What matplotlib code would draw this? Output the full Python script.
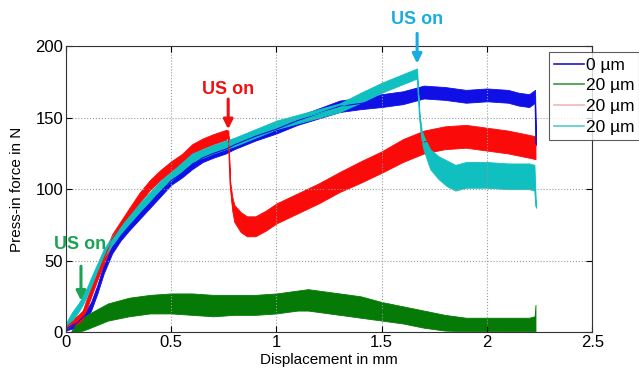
import numpy as np
import matplotlib
matplotlib.use("Agg")
import matplotlib.pyplot as plt
from matplotlib.lines import Line2D

plt.rcParams['font.family'] = ['Liberation Sans', 'DejaVu Sans']

# 0 um (blue)
blue_x = [0.0, 0.02, 0.05, 0.08, 0.1, 0.12, 0.15, 0.18, 0.22, 0.26, 0.3, 0.35, 0.4, 0.45, 0.5,
          0.55, 0.6, 0.65, 0.7, 0.76, 0.8, 0.9, 1.0, 1.1, 1.2, 1.3, 1.4, 1.5, 1.6, 1.7, 1.8,
          1.9, 2.0, 2.1, 2.15, 2.2, 2.228, 2.232]
blue_y = [2, 4, 6, 10, 13, 18, 30, 44, 58, 67, 74, 82, 90, 98, 106,
          111, 117, 122, 125, 128, 131, 137, 142, 148, 153, 158, 160, 162, 164, 168, 167,
          165, 166, 165, 163, 162, 165, 132]
blue_hw = [1, 2, 3, 3, 3, 3, 3, 3, 3, 3, 3, 3, 3, 3, 3,
           3, 3, 3, 3, 3, 3, 3, 3, 3, 3.5, 4, 4, 4.5, 4.5, 4.5, 4.5,
           4.5, 4.5, 4.5, 4.5, 4.5, 4.5, 1]

# 20 um, US on at start (green)
green_x = [0.03, 0.05, 0.08, 0.1, 0.15, 0.2, 0.3, 0.4, 0.5, 0.6, 0.7, 0.8, 0.9, 1.0, 1.1,
           1.15, 1.2, 1.3, 1.4, 1.5, 1.6, 1.7, 1.8, 1.9, 2.0, 2.1, 2.2, 2.226, 2.23]
green_lo = [0, 0, 1, 2, 5, 8, 11, 13, 13, 12, 11, 12, 12, 13, 15,
            15, 14, 12, 10, 8, 6, 3, 1, 0.5, 0.5, 0.5, 0.5, 0.5, 0.5]
green_hi = [1, 6, 10, 12, 16, 20, 24, 26, 27, 27, 26, 26, 26, 27, 29,
            30, 29, 27, 25, 21, 18, 15, 12, 10, 10, 10, 10, 11, 19]

# 20 um, US on at 0.77 mm (red)
red_x = [0.0, 0.03, 0.06, 0.08, 0.1, 0.12, 0.15, 0.18, 0.22, 0.26, 0.3, 0.35, 0.4, 0.45, 0.5,
         0.55, 0.6, 0.65, 0.7, 0.76, 0.772, 0.776, 0.78, 0.79, 0.8, 0.83, 0.86, 0.9, 0.95, 1.0,
         1.1, 1.2, 1.3, 1.4, 1.5, 1.6, 1.7, 1.8, 1.9, 2.0, 2.1, 2.2, 2.23]
red_y = [3, 7, 9, 12, 20, 28, 40, 51, 65, 74, 83, 94, 103, 110, 116,
         121, 128, 132, 135, 138, 139, 120, 104, 90, 83, 77, 74, 74, 78, 83,
         90, 97, 105, 112, 119, 127, 133, 136, 137, 135, 133, 130, 129]
red_hw = [1, 2, 3, 3, 3.5, 3.5, 3.5, 3.5, 3.5, 3.5, 3.5, 3.5, 3.5, 3.5, 3.5,
          3.5, 3.5, 3.5, 3.5, 3.5, 2, 1, 2, 5, 6, 7, 7, 7, 7, 7,
          7, 7, 7, 7.5, 7.5, 8, 8, 8, 8, 8, 8, 8, 8]

# 20 um, US on at 1.67 mm (cyan)
cyan_x = [0.0, 0.03, 0.06, 0.08, 0.1, 0.12, 0.15, 0.18, 0.22, 0.26, 0.3, 0.35, 0.4, 0.45, 0.5,
          0.6, 0.7, 0.8, 0.9, 1.0, 1.1, 1.2, 1.3, 1.4, 1.5, 1.6, 1.668, 1.672, 1.68, 1.69,
          1.7, 1.73, 1.77, 1.81, 1.85, 1.9, 2.0, 2.1, 2.2, 2.225, 2.232]
cyan_y = [4, 11, 17, 22, 28, 35, 45, 55, 64, 71, 78, 87, 95, 103, 109,
          122, 128, 133, 139, 145, 149, 153, 157, 164, 171, 177, 181, 170, 150, 137,
          132, 121, 115, 111, 108, 110, 110, 109, 109, 108, 88]
cyan_hw = [2, 3, 3, 3, 3, 3, 3, 3, 3, 3, 3, 3, 3, 3, 3,
           3, 3, 3, 3, 3, 3, 3, 3, 3.5, 3.5, 3.5, 3.5, 1, 2, 4,
           5, 7, 8, 9, 9, 9, 9, 9, 9, 9, 1]

labels = ['0 µm', '20 µm', '20 µm', '20 µm']
data_colors = ['#1010e6', '#067a06', '#fb0a0a', '#10c0c0']
legend_colors = ['#1a1acc', '#3a9a3a', '#f4b4b4', '#55cccc']

fig = plt.figure(figsize=(6.39, 3.72), dpi=100)
ax = fig.add_axes([0.103, 0.1075, 0.824, 0.768])


def band(x, lo, hi, color):
    ax.fill_between(x, lo, hi, color=color, lw=0.6, edgecolor=color)
    ax.plot(x, (np.asarray(lo) + np.asarray(hi)) / 2, color=color, lw=0.8)


bx, by, bh = np.array(blue_x), np.array(blue_y), np.array(blue_hw)
band(bx, by - bh, by + bh, data_colors[0])
band(green_x, green_lo, green_hi, data_colors[1])
rx, ry, rh = np.array(red_x), np.array(red_y), np.array(red_hw)
band(rx, ry - rh, ry + rh, data_colors[2])
cx, cy, ch = np.array(cyan_x), np.array(cyan_y), np.array(cyan_hw)
band(cx, cy - ch, cy + ch, data_colors[3])

ax.set_xlim(0, 2.5)
ax.set_ylim(0, 200)
ax.set_xticks([0, 0.5, 1, 1.5, 2, 2.5])
ax.set_xticklabels(['0', '0.5', '1', '1.5', '2', '2.5'])
ax.set_yticks([0, 50, 100, 150, 200])
ax.tick_params(direction='in', labelsize=12, length=4, top=True, right=True, pad=2)
ax.grid(True, linestyle=':', color='#999999', linewidth=0.8)
for s in ax.spines.values():
    s.set_color('#333333')
ax.set_xlabel('Displacement in mm', fontsize=11, labelpad=2)
ax.set_ylabel('Press-in force in N', fontsize=11, labelpad=8)

# "US on" annotations
notes = [(0.072, 20, 0.072, 48, 0.068, 61, '#1aa352'),
         (0.771, 140, 0.771, 165, 0.768, 170, '#ee1111'),
         (1.668, 186, 1.668, 211, 1.668, 219, '#19ace0')]
for x_tip, y_tip, x_tail, y_tail, x_txt, y_txt, col in notes:
    ax.annotate('', xy=(x_tip, y_tip), xytext=(x_tail, y_tail), annotation_clip=False,
                arrowprops=dict(arrowstyle='-|>', color=col, lw=2.2, mutation_scale=14))
    ax.text(x_txt, y_txt, 'US on', color=col, fontsize=13, fontweight='bold',
            ha='center', va='center', clip_on=False)

handles = [Line2D([], [], color=c, lw=1.2) for c in legend_colors]
leg = ax.legend(handles, labels, loc='upper left', bbox_to_anchor=(0.918, 0.979),
                fontsize=12.5, frameon=True, fancybox=False, borderaxespad=0,
                handlelength=1.7, handletextpad=0.1, labelspacing=0.32, borderpad=0.3)
leg.get_frame().set_edgecolor('#333333')
leg.get_frame().set_linewidth(0.8)

fig.savefig('out.png', dpi=100)
